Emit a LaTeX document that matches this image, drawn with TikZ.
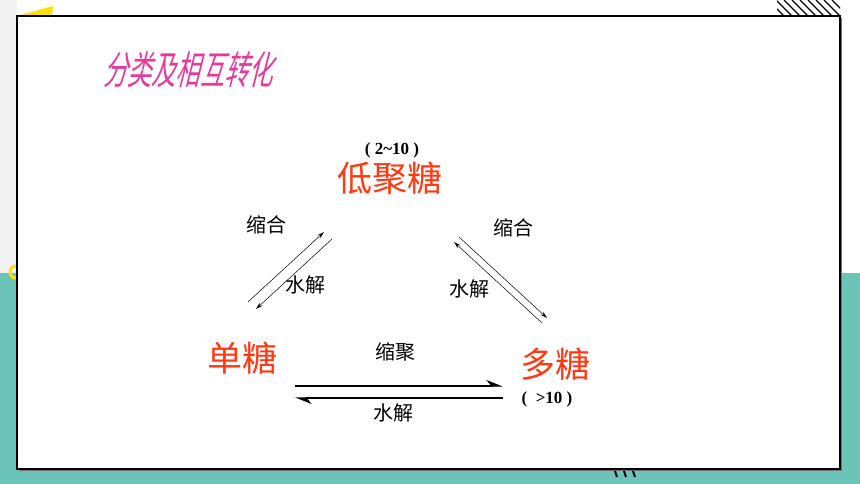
\documentclass[tikz,border=0pt]{standalone}
\usepackage{fontspec}
\setmainfont{Liberation Serif}
\newfontfamily\cjk{Noto Sans CJK SC}
\newfontfamily\cjktitle[FakeSlant=0.25,FakeStretch=0.62]{Noto Sans CJK SC}
\usetikzlibrary{arrows.meta}
\definecolor{bandteal}{HTML}{6CC4B8}
\definecolor{sugarred}{HTML}{FF3A12}
\definecolor{titlepink}{HTML}{E6399B}
\definecolor{markyellow}{HTML}{FFE000}
\begin{document}
\begin{tikzpicture}[x=1pt,y=-1pt,
    sugar/.style={text=sugarred,font=\cjk\fontsize{35}{35}\selectfont,inner sep=0pt},
    verb/.style={font=\cjk\fontsize{20}{20}\selectfont,inner sep=0pt},
    count/.style={font=\bfseries\fontsize{17}{17}\selectfont,inner sep=0pt},
    thinarrow/.style={-{Stealth[length=7pt,width=4pt]},line width=0.5pt},
    thickarrow/.style={-{Stealth[harpoon,length=15pt,width=12pt]},line width=1.3pt}]
  \useasboundingbox (0,0) rectangle (860,484);
  % background
  \fill[white] (0,0) rectangle (860,484);
  \fill[black!5] (0,0) rectangle (17,273);
  \fill[bandteal] (0,273) rectangle (860,484);
  \fill[markyellow] (17,16) -- (53,6) -- (52,16) -- cycle;
  \draw[markyellow,line width=3pt] (16,272) circle (6);
  \begin{scope}
    \clip (777,0) rectangle (840,16);
    \foreach \i in {0,...,8}{
      \draw[line width=1.3pt] (768+8*\i,0) -- (784+8*\i,16);
    }
  \end{scope}
  \foreach \i in {0,1,2}{
    \draw[line width=2pt] (615+9*\i,471) -- (617+9*\i,477);
  }
  % frame
  \fill[black!55] (19,18) rectangle (842,471);
  \fill[white] (17,16) rectangle (840,469);
  \draw[line width=1.2pt] (17,16) rectangle (840,469);
  % title
  \node[text=titlepink,font=\cjktitle\fontsize{39}{39}\selectfont,inner sep=0pt] (title) at (188,70) {分类及相互转化};
  % sugars
  \node[sugar] (oligo) at (390,178) {低聚糖};
  \node[sugar] (mono) at (242,358) {单糖};
  \node[sugar] (poly) at (555,364) {多糖};
  \node[count] (oligon) at (392,150) {( 2\textasciitilde10 )};
  \node[count] (polyn) at (547,399) {(\,\,\,>10 )};
  % reactions
  \def \Verbs{
    lcond/266/225/缩合,
    lhyd/305/285/水解,
    rcond/513/228/缩合,
    rhyd/469/289/水解,
    bcond/395/352/缩聚,
    bhyd/393/413/水解}
  \foreach \id / \x / \y / \t in \Verbs{
    \node[verb] (\id) at (\x,\y) {\t};
  }
  \def \Ends{
    la1/248/302, la2/324/232, lb1/332/239, lb2/256/309,
    ra1/459/237, ra2/547/318, rb1/542/323, rb2/454/242,
    ha1/295/386, ha2/503/386, hb1/503/398, hb2/295/398}
  \foreach \id / \x / \y in \Ends{
    \coordinate (\id) at (\x,\y);
  }
  \foreach \a / \b in {la1/la2, lb1/lb2, ra1/ra2, rb1/rb2}{
    \draw[thinarrow] (\a) -- (\b);
  }
  \foreach \a / \b in {ha1/ha2, hb1/hb2}{
    \draw[thickarrow] (\a) -- (\b);
  }
\end{tikzpicture}
\end{document}
